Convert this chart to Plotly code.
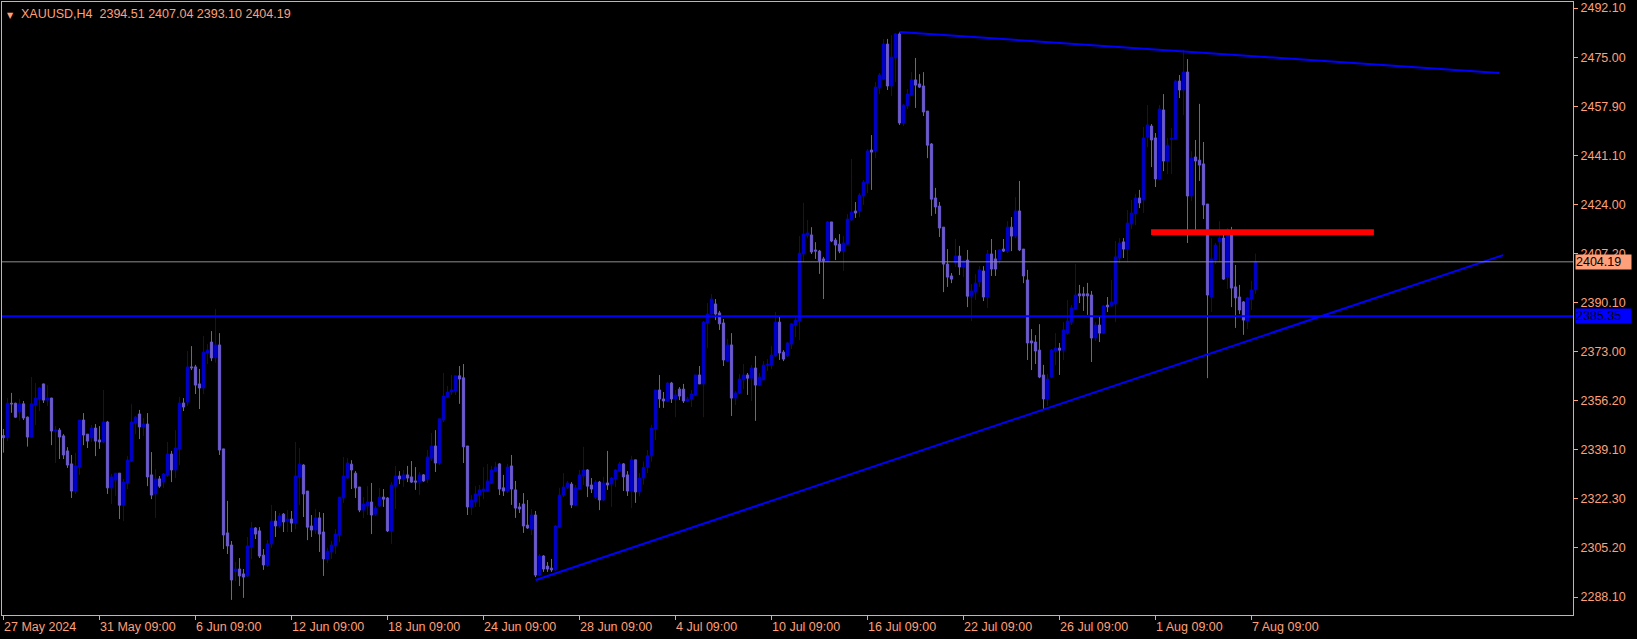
import plotly.graph_objects as go

# ---------------- data ----------------
open_ = [2344.0,2343.3,2355.2,2355.2,2352.2,2355.0,2350.4,2343.5,2354.6,2356.7,
2361.9,2356.3,2357.0,2345.6,2345.9,2343.9,2338.7,2334.2,2324.8,2333.1,
2349.4,2344.5,2343.2,2346.6,2342.5,2341.8,2348.7,2325.9,2328.6,2331.0,
2319.9,2327.6,2335.2,2348.4,2351.5,2347.0,2348.0,2330.4,2323.8,2329.0,
2327.9,2330.4,2337.6,2332.1,2339.4,2355.3,2355.6,2367.8,2367.8,2361.9,
2360.5,2372.6,2376.4,2371.0,2375.4,2339.4,2310.3,2306.1,2297.1,2297.8,
2296.1,2295.4,2305.4,2312.0,2311.0,2302.6,2299.2,2306.5,2314.4,2312.7,
2316.8,2314.4,2315.1,2313.7,2329.7,2333.8,2324.8,2312.7,2311.3,2315.5,
2310.6,2301.3,2303.7,2305.8,2309.6,2322.4,2329.3,2334.1,2331.0,2326.2,
2318.2,2319.6,2321.0,2316.8,2319.6,2322.7,2322.4,2311.0,2326.5,2330.0,
2329.0,2330.4,2329.7,2328.3,2327.9,2330.4,2329.0,2336.2,2340.4,2334.5,
2349.4,2357.4,2359.1,2359.4,2364.7,2364.0,2340.4,2319.3,2321.0,2323.4,
2324.8,2324.8,2327.6,2331.7,2334.2,2325.9,2324.8,2333.5,2325.2,2319.3,
2320.3,2313.0,2311.7,2316.5,2295.7,2302.3,2298.8,2298.1,2297.5,2312.3,
2323.4,2325.9,2327.2,2320.0,2325.5,2330.0,2332.1,2326.9,2322.7,2327.9,
2321.7,2327.6,2327.2,2329.0,2331.7,2334.2,2330.4,2324.8,2335.6,2324.5,
2329.3,2333.0,2337.0,2346.3,2359.8,2356.7,2356.0,2362.2,2356.7,2360.1,
2360.1,2356.0,2356.7,2358.1,2365.0,2361.9,2383.0,2386.1,2389.6,2386.5,
2383.0,2369.8,2375.4,2357.0,2358.8,2363.3,2365.0,2363.9,2367.4,2361.5,
2363.3,2368.4,2368.4,2371.6,2383.3,2372.9,2371.6,2375.7,2382.3,2383.7,
2406.9,2413.5,2413.5,2408.3,2407.9,2405.2,2404.5,2418.0,2411.7,2410.3,
2407.9,2410.3,2418.7,2421.8,2421.8,2427.0,2431.5,2442.9,2442.6,2464.4,
2467.5,2479.6,2465.1,2474.8,2483.1,2452.3,2458.2,2462.0,2467.2,2465.8,
2465.1,2456.4,2445.0,2426.3,2423.5,2416.2,2403.4,2399.3,2403.8,2406.2,
2402.4,2404.8,2392.3,2393.7,2397.2,2401.0,2392.0,2406.9,2405.2,2404.8,
2408.6,2407.9,2416.2,2413.1,2421.8,2408.6,2397.9,2376.8,2376.4,2373.6,
2365.0,2356.7,2364.3,2373.3,2374.3,2373.6,2379.5,2383.3,2387.8,2393.1,
2393.1,2393.1,2392.7,2377.8,2382.3,2379.5,2389.2,2388.9,2389.6,2405.5,
2411.1,2408.6,2417.3,2420.8,2426.3,2425.6,2447.4,2451.2,2447.1,2432.9,
2456.8,2439.1,2446.6,2446.7,2466.8,2463.7,2469.9,2427.0,2440.5,2439.4,
2438.1,2424.2,2392.0,2404.8,2411.1,2412.4,2398.9,2413.5,2395.5,2392.0,
2390.3,2383.7,2391.3,2394.51]

high = [2346.3,2357.0,2358.8,2355.4,2356.7,2356.0,2350.6,2364.3,2362.2,2360.8,
2362.0,2361.5,2357.1,2347.3,2346.6,2344.5,2340.0,2337.3,2338.0,2349.4,
2351.8,2344.5,2347.7,2348.0,2347.3,2359.8,2349.1,2330.7,2331.0,2331.0,
2329.0,2336.9,2354.9,2350.8,2352.9,2350.1,2351.8,2338.3,2332.4,2330.0,
2331.0,2341.8,2338.7,2345.9,2357.4,2357.0,2373.3,2375.0,2368.5,2367.1,
2378.5,2375.7,2380.2,2387.9,2379.5,2339.4,2321.4,2307.5,2300.2,2301.6,
2297.8,2308.9,2314.1,2312.3,2312.3,2304.7,2307.8,2320.0,2317.9,2317.2,
2317.2,2318.2,2317.9,2341.8,2339.7,2334.1,2324.8,2316.5,2318.6,2317.5,
2317.2,2305.1,2307.5,2311.6,2322.7,2336.6,2336.2,2335.5,2331.7,2326.2,
2322.7,2326.5,2327.6,2319.6,2325.9,2325.5,2322.7,2327.9,2333.5,2331.7,
2332.1,2333.5,2335.2,2333.1,2331.4,2330.7,2339.0,2344.9,2345.9,2349.8,
2365.7,2361.2,2365.0,2364.7,2368.1,2368.8,2340.4,2323.4,2326.5,2326.9,
2333.1,2334.2,2333.5,2334.9,2334.5,2330.4,2334.2,2337.3,2328.3,2320.7,
2324.1,2321.7,2318.6,2317.9,2303.0,2302.6,2300.2,2301.3,2313.0,2325.9,
2331.0,2328.3,2327.9,2326.9,2332.1,2340.1,2332.4,2329.3,2328.6,2328.3,
2329.7,2338.7,2329.7,2332.4,2334.9,2334.5,2331.7,2337.0,2335.6,2331.0,
2335.0,2339.0,2347.7,2359.8,2365.0,2359.1,2362.6,2362.6,2359.8,2360.8,
2361.9,2357.4,2359.8,2365.0,2368.1,2383.7,2389.9,2393.0,2391.3,2387.2,
2384.4,2377.5,2379.5,2359.4,2365.3,2368.8,2365.7,2368.4,2371.6,2365.7,
2369.8,2370.5,2375.0,2386.8,2385.1,2373.6,2376.4,2383.0,2385.1,2413.1,
2424.6,2418.7,2416.2,2411.0,2408.3,2405.9,2418.3,2418.0,2412.4,2413.8,
2413.1,2420.7,2439.8,2424.9,2428.0,2432.5,2443.3,2448.1,2466.5,2469.6,
2481.4,2481.4,2482.7,2483.4,2483.8,2458.8,2464.0,2469.9,2474.8,2469.2,
2469.9,2456.4,2445.3,2429.8,2424.9,2416.2,2408.6,2400.3,2412.1,2409.7,
2404.8,2408.3,2396.5,2399.9,2402.7,2402.7,2408.3,2412.1,2408.3,2408.6,
2412.1,2418.3,2419.7,2426.6,2432.2,2408.6,2401.4,2380.9,2378.8,2382.6,
2368.5,2365.3,2374.0,2379.5,2376.1,2383.3,2391.0,2389.2,2403.4,2396.2,
2395.5,2396.9,2394.1,2383.3,2385.1,2389.2,2392.0,2397.9,2411.4,2412.4,
2412.4,2422.1,2425.6,2427.7,2429.1,2450.9,2458.5,2451.9,2448.8,2458.5,
2462.3,2447.1,2450.5,2467.2,2468.9,2477.6,2474.4,2442.5,2446.4,2458.9,
2445.7,2424.2,2412.4,2410.7,2418.3,2413.5,2415.9,2416.3,2403.1,2396.2,
2390.6,2392.0,2397.6,2407.04]

low = [2338.1,2342.1,2351.9,2350.2,2349.2,2349.4,2340.2,2343.3,2347.7,2352.5,
2355.3,2354.3,2340.7,2334.5,2335.9,2335.9,2332.8,2322.4,2323.8,2330.4,
2340.7,2339.7,2341.8,2336.9,2339.4,2341.4,2323.8,2320.3,2323.1,2315.1,
2314.4,2325.5,2334.9,2344.5,2342.8,2343.9,2326.5,2322.0,2315.5,2325.9,
2325.9,2329.7,2327.9,2329.3,2333.8,2352.5,2354.3,2366.7,2358.4,2353.2,
2358.4,2368.8,2369.8,2369.3,2337.3,2304.7,2303.0,2287.1,2293.6,2291.9,
2287.8,2295.0,2301.2,2308.2,2301.6,2297.5,2298.5,2305.1,2308.9,2312.0,
2310.6,2310.6,2310.6,2311.6,2320.0,2315.8,2307.8,2308.9,2309.9,2303.7,
2295.4,2299.9,2301.3,2303.0,2307.1,2320.7,2329.0,2325.5,2322.4,2317.5,
2315.5,2316.5,2309.9,2316.2,2319.3,2319.3,2310.6,2306.5,2318.6,2327.2,
2326.2,2327.9,2327.6,2325.2,2323.4,2328.0,2327.6,2335.2,2331.4,2333.8,
2348.7,2357.0,2358.1,2358.1,2355.0,2334.5,2316.5,2316.5,2319.3,2319.3,
2322.0,2324.5,2327.2,2331.4,2323.4,2323.1,2324.1,2320.0,2315.5,2317.2,
2310.3,2311.7,2309.6,2295.0,2295.4,2296.8,2296.8,2296.8,2297.1,2312.0,
2322.7,2325.5,2318.9,2319.6,2325.2,2326.9,2322.7,2324.1,2322.0,2318.2,
2321.4,2325.2,2319.3,2326.2,2331.4,2324.8,2323.1,2318.9,2320.7,2323.0,
2327.0,2331.0,2335.0,2342.5,2353.6,2353.6,2355.6,2355.3,2350.4,2356.3,
2355.3,2355.6,2353.9,2357.7,2361.9,2350.4,2374.3,2385.8,2384.0,2380.6,
2368.1,2369.5,2350.8,2354.6,2358.4,2360.1,2358.1,2356.0,2349.1,2361.2,
2363.3,2366.4,2367.1,2371.2,2370.2,2369.8,2371.2,2374.0,2378.1,2377.1,
2404.1,2412.4,2406.9,2405.2,2400.0,2391.3,2404.1,2411.0,2404.8,2407.2,
2401.0,2410.0,2418.3,2419.4,2419.7,2423.9,2428.0,2429.1,2440.1,2462.3,
2467.2,2463.7,2461.6,2466.5,2451.6,2451.2,2457.1,2461.6,2457.5,2464.4,
2454.7,2440.1,2420.1,2420.8,2412.8,2393.7,2395.5,2396.8,2402.4,2399.6,
2398.9,2388.5,2383.7,2391.0,2395.5,2390.6,2388.2,2399.3,2399.3,2403.4,
2407.6,2407.2,2407.9,2412.4,2407.9,2396.8,2370.2,2366.7,2368.8,2363.9,
2353.2,2354.3,2363.9,2368.4,2365.0,2370.2,2378.9,2382.3,2387.5,2389.9,
2387.2,2385.8,2369.5,2376.8,2376.4,2379.2,2386.8,2388.6,2383.3,2403.8,
2405.5,2404.1,2415.6,2416.9,2422.8,2421.1,2443.9,2437.0,2430.1,2432.5,
2435.6,2434.6,2434.6,2446.4,2460.9,2455.0,2410.7,2425.3,2413.8,2432.2,
2419.0,2363.9,2386.8,2403.4,2404.1,2397.9,2394.8,2388.5,2381.3,2386.1,
2378.9,2380.9,2387.5,2393.10]

close = [2343.3,2355.2,2355.0,2350.4,2355.0,2350.1,2343.5,2355.0,2357.0,2360.5,
2356.3,2357.0,2345.6,2345.9,2343.5,2337.3,2333.8,2324.8,2333.5,2349.4,
2344.2,2342.1,2346.6,2342.1,2341.8,2348.7,2325.9,2329.7,2331.0,2319.9,
2327.9,2335.5,2348.7,2350.4,2347.0,2348.0,2329.7,2323.4,2329.0,2326.5,
2330.7,2337.6,2332.1,2339.7,2355.3,2353.9,2367.8,2367.5,2361.5,2360.5,
2372.9,2373.6,2370.9,2375.4,2339.0,2309.6,2305.8,2294.0,2297.8,2295.4,
2295.0,2305.8,2312.0,2309.9,2302.3,2299.2,2306.5,2314.4,2312.7,2316.2,
2314.1,2315.1,2313.7,2330.0,2334.1,2323.8,2312.3,2311.3,2315.5,2309.9,
2301.3,2304.0,2306.1,2309.9,2322.7,2330.0,2334.5,2332.1,2325.9,2318.2,
2320.3,2321.0,2316.5,2318.9,2322.7,2322.0,2311.0,2326.9,2330.0,2329.0,
2330.4,2329.3,2327.9,2327.9,2330.4,2328.3,2336.6,2340.4,2334.5,2349.8,
2357.7,2359.1,2359.8,2364.7,2363.6,2340.1,2319.3,2321.7,2323.8,2325.2,
2325.5,2328.3,2332.1,2333.1,2325.5,2324.8,2333.1,2325.5,2318.9,2318.6,
2312.7,2312.0,2316.5,2295.7,2302.3,2297.8,2297.8,2297.5,2312.7,2323.4,
2326.2,2327.6,2320.0,2325.9,2330.4,2332.1,2326.5,2325.5,2327.9,2321.7,
2327.6,2326.9,2329.3,2332.1,2334.2,2329.7,2324.8,2335.6,2324.5,2329.3,
2333.0,2337.0,2346.6,2359.8,2356.7,2356.0,2362.2,2356.7,2358.1,2357.7,
2356.0,2356.7,2358.4,2365.0,2361.9,2383.3,2386.1,2391.3,2386.1,2382.7,
2370.2,2375.4,2357.0,2358.8,2363.6,2365.0,2363.9,2367.4,2361.5,2364.3,
2368.4,2368.6,2371.9,2383.3,2372.6,2370.5,2376.1,2382.7,2384.0,2407.2,
2413.8,2414.2,2407.6,2407.9,2404.5,2404.5,2418.0,2411.4,2410.0,2407.9,
2410.7,2419.0,2421.4,2421.1,2427.3,2431.8,2442.6,2442.2,2464.7,2468.9,
2479.6,2465.1,2475.1,2483.1,2452.3,2458.5,2462.3,2467.2,2465.4,2464.7,
2456.1,2444.6,2425.9,2423.2,2415.9,2403.4,2398.9,2398.2,2406.2,2402.4,
2404.5,2392.3,2394.1,2396.8,2401.4,2392.0,2406.9,2401.7,2401.7,2408.3,
2407.9,2416.2,2413.1,2421.8,2408.3,2399.3,2376.1,2376.1,2373.3,2364.3,
2356.7,2363.6,2373.6,2374.3,2373.6,2380.6,2383.7,2388.2,2392.7,2392.4,
2392.4,2392.4,2377.8,2382.3,2379.5,2388.9,2388.6,2390.3,2405.9,2410.7,
2408.6,2417.6,2421.1,2426.3,2424.6,2447.1,2451.6,2446.4,2432.9,2457.1,
2439.1,2444.6,2446.9,2466.8,2463.7,2469.9,2427.0,2440.1,2439.1,2437.7,
2423.9,2392.7,2405.2,2410.0,2412.4,2398.2,2413.5,2395.1,2391.7,2387.5,
2384.0,2391.7,2394.4,2404.19]

bar_index = list(range(len(close)))

x_tick_index = [0, 24, 48, 72, 96, 120, 144, 168, 192, 216, 240, 264, 288, 312]
x_tick_text = ["27 May 2024", "31 May 09:00", "6 Jun 09:00", "12 Jun 09:00",
               "18 Jun 09:00", "24 Jun 09:00", "28 Jun 09:00", "4 Jul 09:00",
               "10 Jul 09:00", "16 Jul 09:00", "22 Jul 09:00", "26 Jul 09:00",
               "1 Aug 09:00", "7 Aug 09:00"]
y_tick_values = [2492.10, 2475.00, 2457.90, 2441.10, 2424.00, 2407.20, 2390.10,
                 2373.00, 2356.20, 2339.10, 2322.30, 2305.20, 2288.10]

bid_price = 2404.19
support_price = 2385.35
red_level_x = [286.9, 342.6]
red_level_price = 2414.4
upper_trend_x = [224.0, 373.9]
upper_trend_price = [2483.8, 2469.6]
lower_trend_x = [133.05, 374.9]
lower_trend_price = [2294.0, 2406.5]

# ---------------- styling ----------------
FG = "#FFA07A"
BULL = "#0000CD"
BEAR = "#6A5ACD"
FONT = "Liberation Sans"
FS = 12.5

fig = go.Figure()
fig.add_trace(go.Candlestick(
    x=bar_index, open=open_, high=high, low=low, close=close,
    increasing=dict(line=dict(color=BULL, width=1), fillcolor=BULL),
    decreasing=dict(line=dict(color=BEAR, width=1), fillcolor=BEAR),
    whiskerwidth=0, hoverinfo="skip", showlegend=False,
))

fig.add_trace(go.Scatter(x=upper_trend_x, y=upper_trend_price, mode="lines",
                         line=dict(color="#0000FF", width=2), hoverinfo="skip", showlegend=False))
fig.add_trace(go.Scatter(x=lower_trend_x, y=lower_trend_price, mode="lines",
                         line=dict(color="#0000FF", width=2), hoverinfo="skip", showlegend=False))

shapes = [
    dict(type="line", xref="paper", x0=0, x1=1, yref="y", y0=bid_price, y1=bid_price,
         line=dict(color="#8C8C96", width=1)),
    dict(type="line", xref="paper", x0=0, x1=1, yref="y", y0=support_price, y1=support_price,
         line=dict(color="#0000FF", width=2)),
    dict(type="line", xref="x", x0=red_level_x[0], x1=red_level_x[1], yref="y",
         y0=red_level_price, y1=red_level_price, line=dict(color="#FF0000", width=6)),
]

annotations = []
for xi, txt in zip(x_tick_index, x_tick_text):
    annotations.append(dict(x=xi, xref="x", y=0, yref="paper", text=txt, showarrow=False,
                            xanchor="left", yanchor="top", xshift=-2, yshift=-3,
                            font=dict(family=FONT, size=FS, color=FG)))

title = "XAUUSD,H4\u00a0\u00a0{:.2f} {:.2f} {:.2f} {:.2f}".format(open_[-1], high[-1], low[-1], close[-1])
annotations.append(dict(x=0, xref="paper", y=1, yref="paper", text=title, showarrow=False,
                        xanchor="left", yanchor="top", xshift=17, yshift=-3,
                        font=dict(family=FONT, size=FS, color=FG)))
annotations.append(dict(x=0, xref="paper", y=1, yref="paper", text="\u25BC", showarrow=False,
                        xanchor="left", yanchor="top", xshift=3, yshift=-7,
                        font=dict(family="DejaVu Sans", size=8, color=FG)))
annotations.append(dict(x=1, xref="paper", y=bid_price, yref="y", text="{:.2f}".format(bid_price),
                        showarrow=False, xanchor="left", yanchor="middle", xshift=2,
                        bgcolor=FG, borderpad=0, width=55, height=14, align="left",
                        font=dict(family=FONT, size=FS, color="#000000")))
annotations.append(dict(x=1, xref="paper", y=support_price, yref="y", text="{:.2f}".format(support_price),
                        showarrow=False, xanchor="left", yanchor="middle", xshift=2,
                        bgcolor="#0000FF", borderpad=0, width=55, height=14, align="left",
                        font=dict(family=FONT, size=FS, color="#000000")))

fig.update_layout(
    width=1637, height=639,
    paper_bgcolor="#000000", plot_bgcolor="#000000",
    margin=dict(l=2, r=64, t=2, b=24, pad=0),
    showlegend=False,
    boxgap=0.25, boxgroupgap=0.25,
    shapes=shapes, annotations=annotations,
    xaxis=dict(range=[-0.375, 392.375], showgrid=False, zeroline=False,
               showline=True, linecolor=FG, linewidth=1, mirror=True,
               ticks="outside", ticklen=4, tickcolor=FG, tickwidth=1,
               tickvals=x_tick_index, showticklabels=False,
               rangeslider=dict(visible=False), fixedrange=True),
    yaxis=dict(range=[2281.87, 2494.18], side="right", showgrid=False, zeroline=False,
               showline=True, linecolor=FG, linewidth=1, mirror=True,
               ticks="outside", ticklen=4, tickcolor=FG, tickwidth=1,
               tickvals=y_tick_values, ticktext=["{:.2f}".format(v) for v in y_tick_values],
               tickfont=dict(family=FONT, size=FS, color=FG), fixedrange=True),
)

fig.write_html("out.html",
               config={"displayModeBar": False, "staticPlot": True},
               post_script="document.body.style.margin='0';document.body.style.background='#000';")
